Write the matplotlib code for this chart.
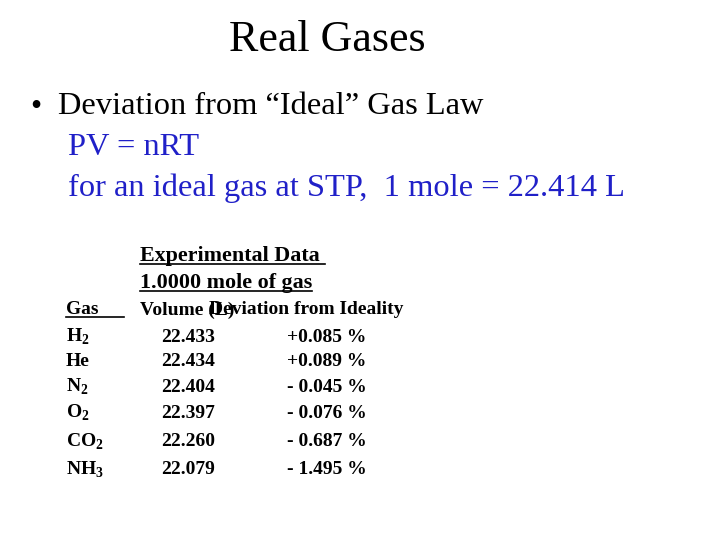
import matplotlib
matplotlib.use("Agg")
import matplotlib.pyplot as plt
from matplotlib.lines import Line2D

plt.rcParams["font.family"] = "Liberation Serif"
plt.rcParams["mathtext.fontset"] = "custom"
plt.rcParams["mathtext.rm"] = "Liberation Serif:bold"
plt.rcParams["mathtext.bf"] = "Liberation Serif:bold"

gases = ["H$_2$", "He", "N$_2$", "O$_2$", "CO$_2$", "NH$_3$"]
volumes = ["22.433", "22.434", "22.404", "22.397", "22.260", "22.079"]
deviations = ["+0.085 %", "+0.089 %", "- 0.045 %", "- 0.076 %", "- 0.687 %", "- 1.495 %"]
row_y = [337, 362, 387, 413, 442, 470]

W, H = 728, 546
fig = plt.figure(figsize=(W/100, H/100), dpi=100)
fig.patch.set_facecolor("white")

def T(x, y, s, size, **kw):
    return fig.text(x/W, 1 - y/H, s, fontsize=size*0.72, va="center", **kw)

blue = "#2020c8"
T(327, 40, "Real Gases", 44, ha="center")
T(30, 107, "\u2022", 32)
T(58, 107, "Deviation from \u201cIdeal\u201d Gas Law", 32.5)
T(68, 148, "PV = nRT", 32.5, color=blue)
T(68, 188, "for an ideal gas at STP,  1 mole = 22.414 L", 32.5, color=blue)

underl = []
underl.append(T(140, 256, "Experimental Data ", 22, fontweight="bold"))
underl.append(T(140, 283, "1.0000 mole of gas", 22, fontweight="bold"))
g_t = T(66, 310, "Gas", 19.5, fontweight="bold")
T(140, 310, "Volume (L)", 19.5, fontweight="bold")
T(209, 310, "Deviation from Ideality", 19.5, fontweight="bold")

for g, v, d, y in zip(gases, volumes, deviations, row_y):
    T(66, y, g, 19.5, fontweight="bold")
    T(161, y, v, 19.5, fontweight="bold")
    T(287, y, d, 19.5, fontweight="bold")

fig.canvas.draw()
r = fig.canvas.get_renderer()
for t in underl:
    bb = t.get_window_extent(r)
    yb = bb.y0 + 2
    fig.add_artist(Line2D([bb.x0/W, bb.x1/W], [yb/H, yb/H], color="black", lw=1.2,
                          transform=fig.transFigure))
bb = g_t.get_window_extent(r)
yb = bb.y0 + 2
fig.add_artist(Line2D([66/W, 124/W], [yb/H, yb/H], color="black", lw=1.2,
                      transform=fig.transFigure))

fig.savefig("out.png", dpi=100)
